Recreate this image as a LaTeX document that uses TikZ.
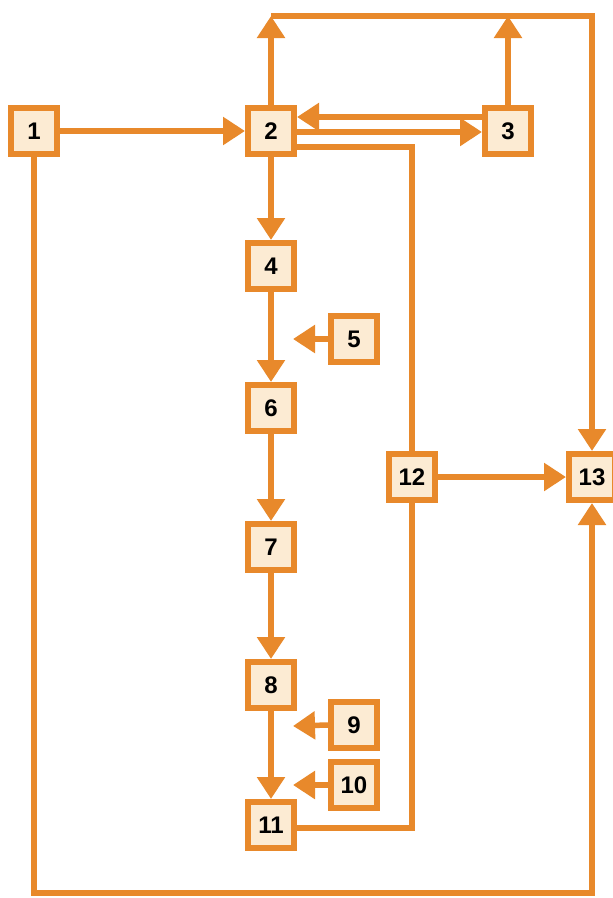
\documentclass[tikz,border=0pt]{standalone}
\usepackage{fontspec}
\setmainfont{Liberation Sans}
\usepackage{xcolor}
\usepackage{tikz}
\usetikzlibrary{arrows.meta}
\definecolor{orng}{HTML}{E8892B}
\definecolor{boxfill}{HTML}{FCEBD3}
\begin{document}
\begin{tikzpicture}[x=1pt, y=-1pt,
  font=\fontsize{24}{24}\selectfont\bfseries,
  box/.style={draw=orng, fill=boxfill, line width=6pt, minimum size=46pt, inner sep=0pt},
  link/.style={draw=orng, line width=5.5pt, line join=miter},
  arr/.style={link, -{Triangle[width=27pt, length=22pt]}}]
\useasboundingbox[fill=white] (0,0) rectangle (613,898);
\node[box] (1) at (34,131) {1};
\node[box] (2) at (271,131) {2};
\node[box] (3) at (508,131) {3};
\node[box] (4) at (271,266) {4};
\node[box] (5) at (354,339) {5};
\node[box] (6) at (271,408) {6};
\node[box] (7) at (271,547) {7};
\node[box] (8) at (271,685) {8};
\node[box] (9) at (354,725) {9};
\node[box] (10) at (354,785) {10};
\node[box] (11) at (271,825) {11};
\node[box] (12) at (412,477) {12};
\node[box] (13) at (592,477) {13};
\coordinate (T) at (0,16);
\coordinate (B) at (0,893);
\coordinate (p5) at (293,339);
\coordinate (p9) at (293,726);
\coordinate (p10) at (293,785);
% top and bottom loops
\draw[arr] (2.north) -- (2 |- T);
\draw[arr] (3.north) -- (3 |- T);
\draw[arr] (2 |- T) -- (13 |- T) -- (13.north);
\draw[arr] (1.south) -- (1 |- B) -- (13 |- B) -- (13.south);
% main column
\draw[arr] (1) -- (2);
\draw[arr] ([yshift=14pt]3.west) -- ([yshift=14pt]2.east);
\draw[arr] ([yshift=-1pt]2.east) -- ([yshift=-1pt]3.west);
\draw[arr] (2) -- (4); \draw[arr] (4) -- (6); \draw[arr] (6) -- (7);
\draw[arr] (7) -- (8); \draw[arr] (8) -- (11);
\draw[arr] (5.west) -- (p5); \draw[arr] (9.west) -- (p9); \draw[arr] (10.west) -- (p10);
% side branch
\draw[link] ([yshift=-16pt]2.east) -| (12.north);
\draw[link] ([yshift=-3pt]11.east) -| (12.south);
\draw[arr] (12) -- (13);
\end{tikzpicture}
\end{document}
